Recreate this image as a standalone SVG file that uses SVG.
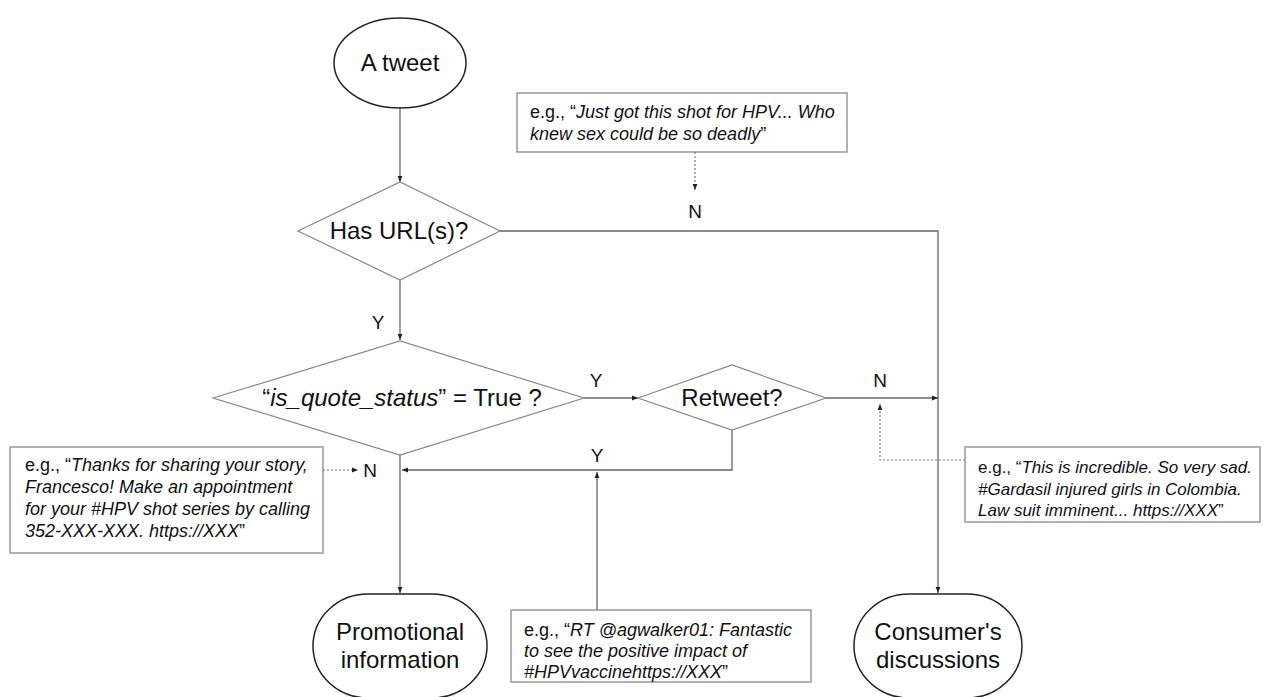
<svg xmlns="http://www.w3.org/2000/svg" width="1285" height="697" viewBox="0 0 1285 697">
<style>
text{font-family:"Liberation Sans",Arial,sans-serif;fill:#111}
.node{font-size:24px;text-anchor:middle}
.lbl{font-size:19px;text-anchor:middle}
.ex{font-size:18px}
.exs{font-size:17px}
.it{font-style:italic}
.oval{fill:#fff;stroke:#222;stroke-width:1.5}
.dia{fill:#fff;stroke:#888;stroke-width:1.2}
.box{fill:#fff;stroke:#888;stroke-width:1.3}
.ln{fill:none;stroke:#666;stroke-width:1.3}
.dot{fill:none;stroke:#777;stroke-width:1.2;stroke-dasharray:2 2}
</style>
<defs>
<marker id="ah" viewBox="0 0 10 10" refX="10" refY="5" markerWidth="6" markerHeight="6" orient="auto" markerUnits="userSpaceOnUse"><path d="M0,1 L10,5 L0,9 z" fill="#222"/></marker>
</defs>
<g id="connectors">
<path class="ln" d="M400,108 V182" marker-end="url(#ah)"/>
<path class="ln" d="M500,231 H938 V593" marker-end="url(#ah)"/>
<path class="ln" d="M400,280 V340" marker-end="url(#ah)"/>
<path class="ln" d="M584,398 H638" marker-end="url(#ah)"/>
<path class="ln" d="M826,398 H938" marker-end="url(#ah)"/>
<path class="ln" d="M732,430 V470 H402" marker-end="url(#ah)"/>
<path class="ln" d="M400,455 V593" marker-end="url(#ah)"/>
<path class="ln" d="M597,610 V472" marker-end="url(#ah)"/>
<path class="dot" d="M695,152 V190" marker-end="url(#ah)"/>
<path class="dot" d="M965,460 H880 V404" marker-end="url(#ah)"/>
<path class="dot" d="M323,470 H358" marker-end="url(#ah)"/>
<text class="lbl" x="695" y="218">N</text>
<text class="lbl" x="378" y="329">Y</text>
<text class="lbl" x="596" y="387">Y</text>
<text class="lbl" x="880" y="387">N</text>
<text class="lbl" x="597" y="462">Y</text>
<text class="lbl" x="370" y="477">N</text>
</g>
<g id="tweet">
<ellipse class="oval" cx="400" cy="63" rx="66" ry="45"/>
<text class="node" x="400" y="71">A tweet</text>
</g>
<g id="has-url">
<polygon class="dia" points="298,231 400,182 500,231 400,280"/>
<text class="node" x="399" y="239">Has URL(s)?</text>
</g>
<g id="quote-status">
<polygon class="dia" points="213,398 400,341 584,398 400,455"/>
<text class="node" x="402" y="406">“<tspan class="it">is_quote_status</tspan>” = True ?</text>
</g>
<g id="retweet">
<polygon class="dia" points="638,398 732,365 826,398 732,430"/>
<text class="node" x="732" y="406">Retweet?</text>
</g>
<g id="ex-top">
<rect class="box" x="517" y="93" width="330" height="59"/>
<text class="ex" x="530" y="118">e.g., “<tspan class="it">Just got this shot for HPV... Who</tspan></text>
<text class="ex" x="530" y="140"><tspan class="it">knew sex could be so deadly</tspan>”</text>
</g>
<g id="ex-left">
<rect class="box" x="10" y="447" width="313" height="106"/>
<text class="ex" x="25" y="471">e.g., “<tspan class="it">Thanks for sharing your story,</tspan></text>
<text class="ex it" x="25" y="493">Francesco! Make an appointment</text>
<text class="ex it" x="25" y="515">for your #HPV shot series by calling</text>
<text class="ex" x="25" y="537"><tspan class="it">352-XXX-XXX. https://XXX</tspan>”</text>
</g>
<g id="ex-right">
<rect class="box" x="965" y="447" width="295" height="75"/>
<text class="exs" x="978" y="473">e.g., “<tspan class="it">This is incredible. So very sad.</tspan></text>
<text class="exs it" x="978" y="495">#Gardasil injured girls in Colombia.</text>
<text class="exs" x="978" y="516"><tspan class="it">Law suit imminent... https://XXX</tspan>”</text>
</g>
<g id="ex-bottom">
<rect class="box" x="511" y="610" width="300" height="72"/>
<text class="ex" x="524" y="636">e.g., “<tspan class="it">RT @agwalker01: Fantastic</tspan></text>
<text class="ex it" x="524" y="657">to see the positive impact of</text>
<text class="ex" x="524" y="678"><tspan class="it">#HPVvaccinehttps://XXX</tspan>”</text>
</g>
<g id="promotional">
<rect class="oval" x="313" y="594" width="174" height="104" rx="55" ry="52"/>
<text class="node" x="400" y="640">Promotional</text>
<text class="node" x="400" y="668">information</text>
</g>
<g id="consumer">
<rect class="oval" x="854" y="594" width="168" height="104" rx="55" ry="52"/>
<text class="node" x="938" y="640">Consumer's</text>
<text class="node" x="938" y="668">discussions</text>
</g>
</svg>
